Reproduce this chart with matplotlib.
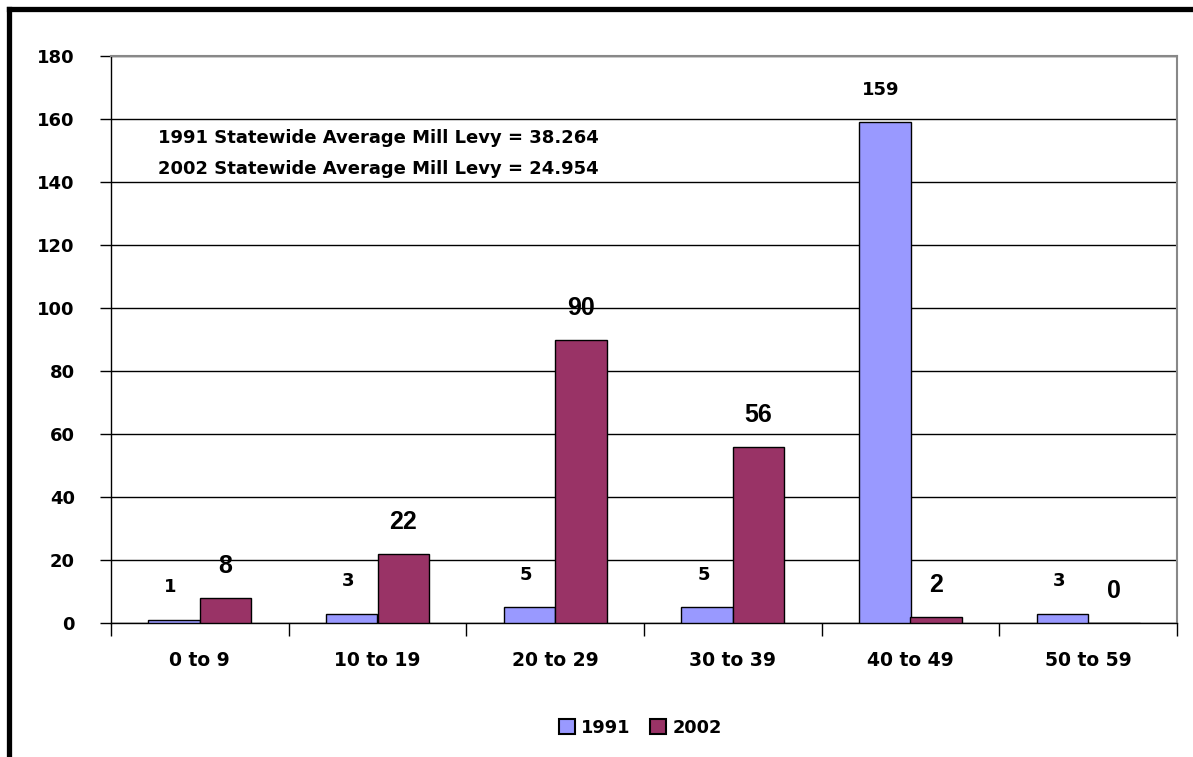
import matplotlib
matplotlib.use("Agg")
import matplotlib.pyplot as plt
from matplotlib.patches import Patch
from matplotlib.lines import Line2D
import numpy as np

plt.rcParams['font.family'] = ['DejaVu Sans']
plt.rcParams['font.weight'] = 'bold'

categories = ["0 to 9", "10 to 19", "20 to 29", "30 to 39", "40 to 49", "50 to 59"]
counts_1991 = [1, 3, 5, 5, 159, 3]
counts_2002 = [8, 22, 90, 56, 2, 0]
y_ticks = [0, 20, 40, 60, 80, 100, 120, 140, 160, 180]
notes = ["1991 Statewide Average Mill Levy = 38.264",
         "2002 Statewide Average Mill Levy = 24.954"]

color_1991 = "#9999FF"
color_2002 = "#993366"

W, H = 1193, 757
fig = plt.figure(figsize=(W / 100, H / 100), dpi=100)
ax = fig.add_axes([111 / W, 1 - 623 / H, (1177 - 111) / W, (623 - 56) / H])

x = np.arange(len(categories))
width = 0.29
b1 = ax.bar(x - width / 2, counts_1991, width, color=color_1991,
            edgecolor="black", linewidth=1.0, zorder=3)
b2 = ax.bar(x + width / 2, counts_2002, width, color=color_2002,
            edgecolor="black", linewidth=1.0, zorder=3)

for rect, v in zip(b1, counts_1991):
    ax.annotate(str(v), (rect.get_x() + rect.get_width() / 2 - 0.02, v),
                xytext=(0, 23.5), textcoords="offset points",
                ha="center", va="center", fontsize=13, fontweight="bold")
for rect, v in zip(b2, counts_2002):
    ax.annotate(str(v), (rect.get_x() + rect.get_width() / 2, v),
                xytext=(0, 23), textcoords="offset points",
                ha="center", va="center", fontsize=18, fontweight="bold",
                family=["Liberation Sans", "DejaVu Sans"])

ax.set_xlim(-0.5, len(categories) - 0.5)
ax.set_ylim(0, 180)
ax.set_yticks(y_ticks)
ax.set_yticklabels([str(t) for t in y_ticks])
ax.tick_params(axis="y", direction="out", length=8, width=1.0,
               labelsize=13, pad=18, color="black")
ax.yaxis.grid(True, color="black", linewidth=1.0, zorder=0)
ax.set_axisbelow(True)

ax.set_xticks(x)
ax.set_xticklabels(categories)
ax.set_xticks(np.arange(len(categories) + 1) - 0.5, minor=True)
ax.tick_params(axis="x", which="major", length=0, labelsize=13.5, pad=20)
ax.tick_params(axis="x", which="minor", direction="out", length=9, width=1.0)
for lbl in ax.get_xticklabels() + ax.get_yticklabels():
    lbl.set_fontweight("bold")

for side in ("left", "bottom"):
    ax.spines[side].set_color("black")
    ax.spines[side].set_linewidth(1.0)
for side in ("top", "right"):
    ax.spines[side].set_color("#888888")
    ax.spines[side].set_linewidth(1.5)

fig.text(158 / W, 1 - 138 / H, notes[0], ha="left", va="center",
         fontsize=13, fontweight="bold")
fig.text(158 / W, 1 - 169 / H, notes[1], ha="left", va="center",
         fontsize=13, fontweight="bold")

handles = [Patch(facecolor=color_1991, edgecolor="black", linewidth=1.5, label="1991"),
           Patch(facecolor=color_2002, edgecolor="black", linewidth=1.5, label="2002")]
fig.legend(handles=handles, loc="center", bbox_to_anchor=(640 / W, 1 - 728 / H),
           ncol=2, frameon=False, prop={"size": 12.8, "weight": "bold"},
           handlelength=0.9, handleheight=0.9, handletextpad=0.35, columnspacing=1.1)

# outer frame (top and left edges)
fig.add_artist(Line2D([8.5 / W, 8.5 / W], [0, 1 - 8.5 / H], color="black",
                      linewidth=3.8, transform=fig.transFigure, solid_capstyle="projecting"))
fig.add_artist(Line2D([8.5 / W, 1], [1 - 9 / H, 1 - 9 / H], color="black",
                      linewidth=3.8, transform=fig.transFigure, solid_capstyle="projecting"))

fig.savefig("out.png", dpi=100)
